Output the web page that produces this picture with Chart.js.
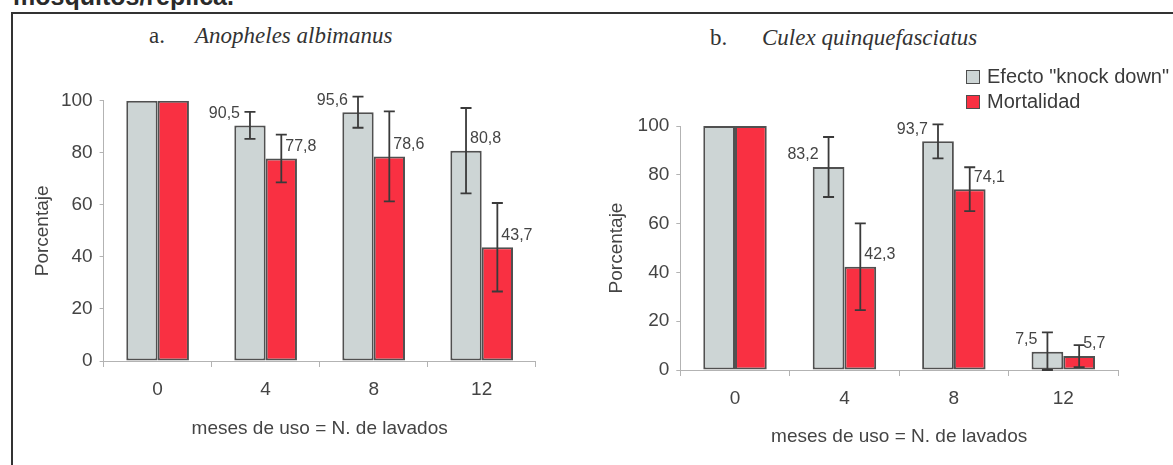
<!DOCTYPE html>
<html>
<head>
<meta charset="utf-8">
<script src="https://cdn.jsdelivr.net/npm/chart.js@4.4.1/dist/chart.umd.min.js"></script>
<style>
  body { margin: 0; width: 1173px; height: 465px; overflow: hidden; background: #fff; position: relative; font-family: "Liberation Sans", Arial, sans-serif; }
  .frame { position: absolute; left: 11px; top: 12px; width: 1200px; height: 500px; border-top: 2.5px solid #333; border-left: 2.5px solid #333; }
  .head { position: absolute; left: 13px; top: -16px; font-weight: bold; font-size: 25px; line-height: 25px; color: #2a2a2a; white-space: nowrap; }
  .ttl { position: absolute; font-family: "Liberation Serif", "Times New Roman", serif; font-size: 23px; line-height: 23px; color: #333; white-space: nowrap; }
  .ttl i { font-style: italic; }
  canvas { position: absolute; top: 0; }
  #legend { position: absolute; left: 966px; top: 66px; font-size: 20px; line-height: 20px; color: #3a3a3a; }
  #legend .item { position: relative; height: 25px; padding-left: 21px; white-space: nowrap; }
  #legend .box { position: absolute; left: 0; top: 4px; width: 12px; height: 12px; border: 1px solid #4d4d4d; }
</style>
</head>
<body>
<div class="frame"></div>
<div class="head">mosquitos/réplica.</div>
<div class="ttl" style="left:149px; top:24px;">a.</div>
<div class="ttl" style="left:195px; top:24px;"><i>Anopheles albimanus</i></div>
<div class="ttl" style="left:710px; top:26px;">b.</div>
<div class="ttl" style="left:762px; top:26px;"><i>Culex quinquefasciatus</i></div>
<canvas id="chartA" width="580" height="465" style="left:0"></canvas>
<canvas id="chartB" width="593" height="465" style="left:580px"></canvas>
<div id="legend"></div>
<script>
// months of use = number of washes
const categories = ['0', '4', '8', '12'];
const seriesNames = ['Efecto "knock down"', 'Mortalidad'];
const yTicks = [0, 20, 40, 60, 80, 100];

// a. Anopheles albimanus
const knockA = [100, 90.5, 95.6, 80.8];
const mortA = [100, 77.8, 78.6, 43.7];
const knockErrA = [0, 5.2, 6, 16.4];
const mortErrA = [0, 9.2, 17.3, 17];

// b. Culex quinquefasciatus
const knockB = [100, 83.2, 93.7, 7.5];
const mortB = [100, 42.3, 74.1, 5.7];
const knockErrB = [0, 12.3, 7, 7.9];
const mortErrB = [0, 17.8, 9, 4.5];

const grayFill = '#cdd5d5';
const redFill = '#f93042';
const edge = '#505050';
const textCol = '#444';
const axisCol = '#b3b3b3';

// error bars + value labels ("90,5")
const errorBars = {
  id: 'errorBars',
  afterDatasetsDraw(chart, args, opts) {
    const ctx = chart.ctx;
    const y = chart.scales.y;
    chart.data.datasets.forEach((ds, i) => {
      const meta = chart.getDatasetMeta(i);
      meta.data.forEach((bar, j) => {
        const v = ds.data[j];
        const e = ds.errors[j];
        ctx.save();
        if (e) {
          const top = y.getPixelForValue(v + e);
          const bot = y.getPixelForValue(Math.max(0, v - e));
          ctx.strokeStyle = '#3a3a3a';
          ctx.lineWidth = 1.8;
          ctx.beginPath();
          ctx.moveTo(bar.x, top); ctx.lineTo(bar.x, bot);
          ctx.moveTo(bar.x - 5.5, top); ctx.lineTo(bar.x + 5.5, top);
          ctx.moveTo(bar.x - 5.5, bot); ctx.lineTo(bar.x + 5.5, bot);
          ctx.stroke();
        }
        if (v < 100) {
          const side = opts.sides[i][j];
          ctx.fillStyle = textCol;
          ctx.font = '16px "Liberation Sans", Arial, sans-serif';
          ctx.textBaseline = 'middle';
          ctx.textAlign = side === 'left' ? 'right' : 'left';
          const x = side === 'left' ? bar.x - 10 : bar.x + 4;
          ctx.fillText(String(v).replace('.', ','), x, bar.y - 12);
        }
        ctx.restore();
      });
    });
  }
};

function makeChart(id, knock, mort, knockErr, mortErr, cfg) {
  const font = { family: '"Liberation Sans", Arial, sans-serif', size: 19 };
  return new Chart(document.getElementById(id), {
    type: 'bar',
    data: {
      labels: categories,
      datasets: [
        { label: seriesNames[0], data: knock, errors: knockErr, backgroundColor: grayFill },
        { label: seriesNames[1], data: mort, errors: mortErr, backgroundColor: redFill }
      ]
    },
    options: {
      responsive: false,
      animation: false,
      devicePixelRatio: 1,
      layout: { padding: { left: 0, top: cfg.top, right: cfg.right, bottom: 0 } },
      datasets: {
        bar: {
          borderColor: edge, borderWidth: 2, borderSkipped: false,
          categoryPercentage: 0.58, barPercentage: 1.0
        }
      },
      plugins: {
        legend: { display: false },
        tooltip: { enabled: false },
        errorBars: { sides: cfg.sides }
      },
      scales: {
        x: {
          grid: { drawOnChartArea: false, drawTicks: true, tickLength: 6, color: axisCol },
          border: { color: axisCol, width: 1 },
          ticks: { color: textCol, font: font, padding: cfg.xPad },
          title: { display: true, text: 'meses de uso = N. de lavados', color: textCol, font: font, padding: { top: 0, bottom: cfg.xTitlePad } },
          afterFit: s => { s.height = cfg.xHeight; }
        },
        y: {
          min: 0, max: 100,
          afterBuildTicks: s => { s.ticks = yTicks.map(v => ({ value: v })); },
          grid: { drawOnChartArea: false, drawTicks: true, tickLength: 4, color: axisCol },
          border: { color: axisCol, width: 1 },
          ticks: { color: textCol, font: font, padding: 7 },
          title: { display: true, text: 'Porcentaje', color: textCol, font: font, padding: { top: cfg.yTitlePad, bottom: 0 } },
          afterFit: s => { s.width = cfg.yWidth; }
        }
      }
    },
    plugins: [errorBars]
  });
}

makeChart('chartA', knockA, mortA, knockErrA, mortErrA, {
  top: 100.7, right: 44.3, yWidth: 103.6, xHeight: 104, xPad: 11.6, xTitlePad: 25, yTitlePad: 31.6,
  sides: [['', 'left', 'left', 'right'], ['', 'right', 'right', 'right']]
});

const chartB = makeChart('chartB', knockB, mortB, knockErrB, mortErrB, {
  top: 126, right: 55, yWidth: 100.3, xHeight: 95, xPad: 11, xTitlePad: 17, yTitlePad: 25.6,
  sides: [['', 'left', 'left', 'left'], ['', 'right', 'right', 'right']]
});

// legend built from the second chart's datasets
const legend = document.getElementById('legend');
chartB.data.datasets.forEach(ds => {
  const item = document.createElement('div');
  item.className = 'item';
  const box = document.createElement('span');
  box.className = 'box';
  box.style.background = ds.backgroundColor;
  item.appendChild(box);
  item.appendChild(document.createTextNode(ds.label));
  legend.appendChild(item);
});
</script>
</body>
</html>
